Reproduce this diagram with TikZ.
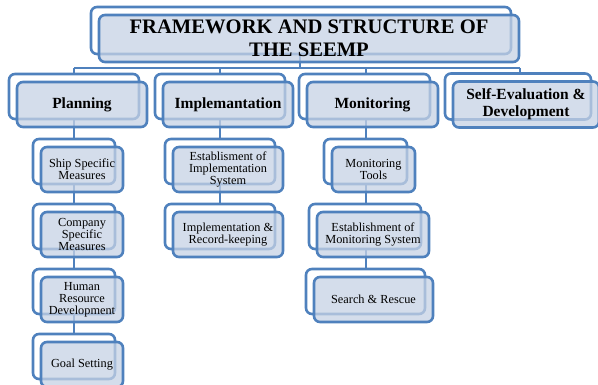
\documentclass[tikz,border=0pt]{standalone}
\usepackage{fontspec}
\setmainfont{Liberation Serif}
\usetikzlibrary{calc}

\definecolor{edge}{RGB}{79,129,189}
\definecolor{panel}{RGB}{198,210,228}

\pgfdeclarelayer{wires}
\pgfsetlayers{wires,main}

\newcommand{\hdTitle}{\bfseries\fontsize{20.6}{23}\selectfont}
\newcommand{\hdHead}{\bfseries\fontsize{15.5}{17}\selectfont}
\newcommand{\hdItem}{\fontsize{12.3}{12}\selectfont}

\tikzset{
  backbox/.style={draw=edge, line width=2.6pt, rounded corners=6pt,
    inner sep=0pt, outer sep=0pt},
  frontbox/.style={draw=edge, line width=2.6pt, rounded corners=6pt,
    fill=panel, fill opacity=0.75, text opacity=1, draw opacity=1,
    inner sep=0pt, outer sep=0pt, align=center, text=black},
  wire/.style={draw=edge, line width=2.6pt},
}

% #1 name, #2 centre of the front panel, #3 width, #4 height, #5 font, #6 text
\newcommand{\stackbox}[6]{%
  \node[backbox, minimum width=#3pt, minimum height=#4pt] (#1B) at ($(#2)+(-8,-8)$) {};
  \node[frontbox, minimum width=#3pt, minimum height=#4pt, font=#5] (#1) at (#2) {#6};
}

\begin{document}
\begin{tikzpicture}[x=1pt, y=-1pt]
  \useasboundingbox (0,0) rectangle (598,385);
  \clip (0,0) rectangle (598,385);

  % title
  \stackbox{title}{309,38.5}{420}{47}{\hdTitle}{FRAMEWORK AND STRUCTURE OF\\THE SEEMP}

  % main headings
  \stackbox{plan}{82,104.5}{130}{45}{\hdHead}{Planning}
  \stackbox{impl}{228,104.5}{130}{45}{\hdHead}{Implemantation}
  \stackbox{moni}{372.5,104.5}{131}{45}{\hdHead}{Monitoring}
  \stackbox{self}{526,104.5}{146}{46}{\hdHead}{Self-Evaluation \&\\Development}

  % planning items
  \stackbox{ship}{82,169.5}{82}{45}{\hdItem}{Ship Specific\\Measures}
  \stackbox{comp}{82,234.5}{82}{45}{\hdItem}{Company\\Specific\\Measures}
  \stackbox{human}{82,299.5}{82}{45}{\hdItem}{Human\\Resource\\Development}
  \stackbox{goal}{82,364.5}{82}{45}{\hdItem}{Goal Setting}

  % implementation items
  \stackbox{estimp}{228,169.5}{110}{45}{\hdItem}{Establisment of\\Implementation\\System}
  \stackbox{record}{228,234.5}{110}{45}{\hdItem}{Implementation \&\\Record-keeping}

  % monitoring items
  \stackbox{tools}{373.5,169.5}{83}{45}{\hdItem}{Monitoring\\Tools}
  \stackbox{estmon}{373,234.5}{112}{45}{\hdItem}{Establishment of\\Monitoring System}
  \stackbox{search}{373.5,299.5}{119}{45}{\hdItem}{Search \& Rescue}

  % connectors
  \begin{pgfonlayer}{wires}
    \coordinate (hub) at (300,68);
    \coordinate (j1) at (74,68);
    \coordinate (j2) at (220,68);
    \coordinate (j3) at (366,68);
    \coordinate (j4) at (520,68);
    \draw[wire] (titleB.south -| hub) -- (hub);
    \draw[wire] (j1) -- (j4);
    \draw[wire] (j1) -- (j1 |- planB.north);
    \draw[wire] (j2) -- (j2 |- implB.north);
    \draw[wire] (j3) -- (j3 |- moniB.north);
    \draw[wire] (j4) -- (j4 |- selfB.north);

    \draw[wire] (planB.south -| j1) -- (shipB.north -| j1);
    \draw[wire] (shipB.south -| j1) -- (compB.north -| j1);
    \draw[wire] (compB.south -| j1) -- (humanB.north -| j1);
    \draw[wire] (humanB.south -| j1) -- (goalB.north -| j1);

    \draw[wire] (implB.south -| j2) -- (estimpB.north -| j2);
    \draw[wire] (estimpB.south -| j2) -- (recordB.north -| j2);

    \draw[wire] (moniB.south -| j3) -- (toolsB.north -| j3);
    \draw[wire] (toolsB.south -| j3) -- (estmonB.north -| j3);
    \draw[wire] (estmonB.south -| j3) -- (searchB.north -| j3);
  \end{pgfonlayer}
\end{tikzpicture}
\end{document}
